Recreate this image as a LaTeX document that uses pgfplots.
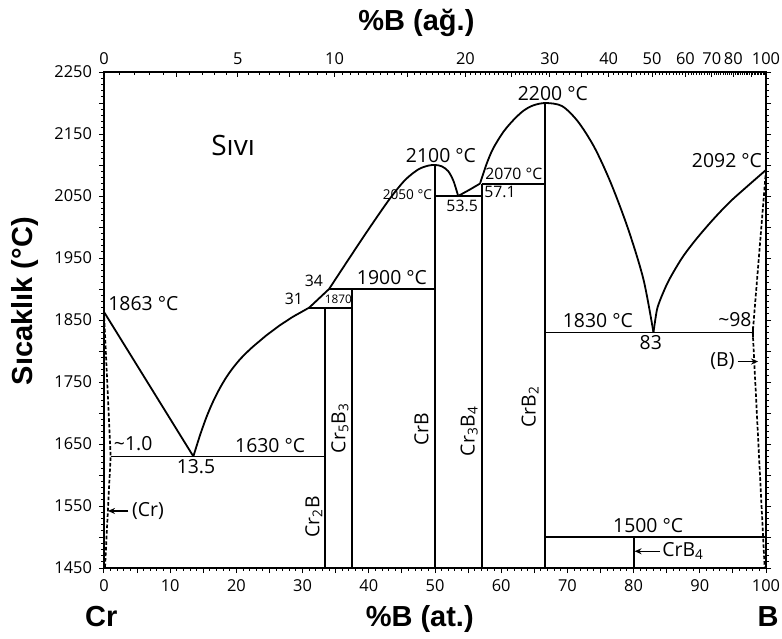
\documentclass[border=0pt]{standalone}
\usepackage{fontspec}
\setmainfont{Open Sans}
\newfontfamily\headfont{Liberation Sans}
\usepackage{pgfplots}
\pgfplotsset{compat=1.18}
\usetikzlibrary{arrows.meta}

% wt.% B -> at.% B  (B: 10.81, Cr: 52.00)
\def\wtminor{0}
\foreach \w in {0.5,1,...,29.5}{%
  \pgfmathparse{100*(\w/10.81)/((\w/10.81)+((100-\w)/52))}%
  \xdef\wtminor{\wtminor,\pgfmathresult}}
\foreach \w in {30,31,...,99}{%
  \pgfmathparse{100*(\w/10.81)/((\w/10.81)+((100-\w)/52))}%
  \xdef\wtminor{\wtminor,\pgfmathresult}}
\xdef\wtminor{\wtminor,100}

\newcommand\fa{\fontsize{9.7}{11}\selectfont}
\newcommand\fb{\fontsize{7.9}{9}\selectfont}
\newcommand\fc{\fontsize{6.8}{8}\selectfont}
\newcommand\fd{\fontsize{5.9}{7}\selectfont}
\newcommand\ftitle{\headfont\bfseries\fontsize{14.5}{16}\selectfont}

\begin{document}
\begin{tikzpicture}[
  ph/.style={black, line width=0.9pt, no markers},
  dsh/.style={black, line width=0.85pt, no markers, dash pattern=on 1.8pt off 1pt},
  lbl/.style={inner sep=0pt, font=\fa},
  arr/.style={black, line width=0.7pt, -{Stealth[length=3.5pt,width=3pt]}},
]
\begin{axis}[
  name=main,
  scale only axis, width=331pt, height=248pt,
  xmin=0, xmax=100, ymin=1450, ymax=2250,
  clip=false,
  axis line style={line width=0.6pt},
  xtick={0,5,...,100},
  xticklabels={0,,10,,20,,30,,40,,50,,60,,70,,80,,90,,100},
  minor x tick num=4,
  xtick pos=left,
  ytick={1450,1500,...,2250},
  yticklabels={1450,,1550,,1650,,1750,,1850,,1950,,2050,,2150,,2250},
  minor y tick num=4,
  ytick pos=both, yticklabel pos=left,
  tick align=outside,
  major tick length=2.5pt, minor tick length=1.3pt,
  tick style={line width=0.5pt, black},
  ticklabel style={font=\fontsize{8.2}{9}\selectfont},
  /pgf/number format/assume math mode=true,
  /pgf/number format/1000 sep={},
  scaled ticks=false,
]
% liquidus
\addplot[ph] coordinates {(0,1863) (13.5,1630)};
\addplot[ph, smooth, tension=0.5] coordinates {(13.5,1630) (14.5,1664) (15.5,1694) (16.5,1719) (17.5,1740) (18.5,1758) (19.5,1773) (20.5,1786) (21.5,1797) (22.5,1807) (23.5,1816) (24.5,1825) (25.5,1833) (26.5,1841) (27.5,1848) (28.5,1855) (29.5,1861) (30.5,1867) (31,1870)};
\addplot[ph] coordinates {(31,1870) (34,1900)};
\addplot[ph, smooth, tension=0.5] coordinates {(34,1900) (37.2,1952) (40.2,2000) (43.2,2046) (45.5,2076) (47.5,2093) (49,2099) (50,2100) (51,2098) (52,2090) (52.8,2074) (53.5,2050)};
\addplot[ph] coordinates {(53.5,2050) (55.2,2060) (56.8,2070)};
\addplot[ph, smooth, tension=0.5] coordinates {(56.8,2070) (57.8,2102) (58.8,2127) (60.3,2153) (61.8,2172) (63.3,2187) (64.8,2196) (66.7,2200) (69.2,2195) (71.6,2170) (74.1,2128) (76.6,2070) (79.2,1996) (81.5,1915) (83,1830)};
\addplot[ph, smooth, tension=0.5] coordinates {(83,1830) (83.5,1865) (84,1882) (85,1907) (86,1927) (87.5,1953) (89.5,1981) (92,2012) (94.5,2040) (97,2064) (100,2092)};
% solvus lines of the terminal solid solutions
\addplot[dsh] coordinates {(0,1863) (1.0,1630) (0.15,1450)};
\addplot[dsh] coordinates {(100,2092) (98,1830) (99.8,1450)};
% invariant reactions
\addplot[ph] coordinates {(1.0,1630) (33.33,1630)};
\addplot[ph] coordinates {(31,1870) (37.5,1870)};
\addplot[ph] coordinates {(34,1900) (50,1900)};
\addplot[ph] coordinates {(50,2050) (57.14,2050)};
\addplot[ph] coordinates {(57.14,2070) (66.67,2070)};
\addplot[ph] coordinates {(66.67,1830) (98,1830)};
\addplot[ph] coordinates {(98,1822) (98,1838)};
\addplot[ph] coordinates {(66.67,1500) (100,1500)};
% compounds
\addplot[ph] coordinates {(33.33,1450) (33.33,1870)};
\addplot[ph] coordinates {(37.5,1450) (37.5,1900)};
\addplot[ph] coordinates {(50,1450) (50,2100)};
\addplot[ph] coordinates {(57.14,1450) (57.14,2070)};
\addplot[ph] coordinates {(66.67,1450) (66.67,2200)};
\addplot[ph] coordinates {(80,1450) (80,1500)};

% labels
\node[lbl, font=\fontsize{14}{16}\selectfont] at (axis cs:19.5,2131) {Sıvı};
\node[lbl, anchor=west] at (axis cs:0.6,1877) {1863 °C};
\node[lbl] at (axis cs:4.4,1650) {\textasciitilde1.0};
\node[lbl] at (axis cs:13.9,1613) {13.5};
\node[lbl] at (axis cs:25.1,1648) {1630 °C};
\node[lbl, font=\fb] at (axis cs:28.7,1884) {31};
\node[lbl, font=\fb] at (axis cs:31.7,1913) {34};
\node[lbl, font=\fd] at (axis cs:35.4,1884) {1870};
\node[lbl] at (axis cs:43.5,1918) {1900 °C};
\node[lbl] at (axis cs:50.9,2116) {2100 °C};
\node[lbl, font=\fc, anchor=east] at (axis cs:49.6,2052) {2050 °C};
\node[lbl, font=\fb] at (axis cs:54.1,2034) {53.5};
\node[lbl, font=\fb, anchor=west] at (axis cs:57.4,2056) {57.1};
\node[lbl, font=\fb] at (axis cs:61.9,2085) {2070 °C};
\node[lbl] at (axis cs:67.8,2215) {2200 °C};
\node[lbl] at (axis cs:74.6,1849) {1830 °C};
\node[lbl] at (axis cs:82.6,1814) {83};
\node[lbl] at (axis cs:95.3,1850) {\textasciitilde98};
\node[lbl] at (axis cs:94.1,2107) {2092 °C};
\node[lbl] at (axis cs:82.2,1519) {1500 °C};
\node[lbl, anchor=west] at (axis cs:4.2,1542) {(Cr)};
\draw[arr] (axis cs:3.7,1542) -- (axis cs:0.6,1542);
\node[lbl, anchor=east] at (axis cs:95.3,1783) {(B)};
\draw[arr] (axis cs:95.7,1783) -- (axis cs:98.8,1783);
\node[lbl, anchor=west] at (axis cs:84.3,1477) {CrB\textsubscript{4}};
\draw[arr] (axis cs:84,1477) -- (axis cs:80.15,1477);
% compound names
\node[lbl, rotate=90] at (axis cs:31.7,1532) {Cr\textsubscript{2}B};
\node[lbl, rotate=90] at (axis cs:35.65,1676) {Cr\textsubscript{5}B\textsubscript{3}};
\node[lbl, rotate=90] at (axis cs:47.95,1674) {CrB};
\node[lbl, rotate=90] at (axis cs:55.15,1671) {Cr\textsubscript{3}B\textsubscript{4}};
\node[lbl, rotate=90] at (axis cs:64.35,1710) {CrB\textsubscript{2}};
% axis titles
\node[inner sep=0pt, anchor=base, font=\ftitle] at ([yshift=21pt]rel axis cs:0.472,1) {\%B (ağ.)};
\node[inner sep=0pt, anchor=base, font=\ftitle] at ([yshift=-29pt]rel axis cs:0.477,0) {\%B (at.)};
\node[inner sep=0pt, anchor=base, font=\ftitle] at ([yshift=-29pt]rel axis cs:-0.004,0) {Cr};
\node[inner sep=0pt, anchor=base, font=\ftitle] at ([yshift=-29pt]rel axis cs:1.003,0) {B};
\node[inner sep=0pt, rotate=90, font=\ftitle] at ([xshift=-39.5pt]rel axis cs:0,0.538) {Sıcaklık (°C)};
\end{axis}

% wt.% scale along the top edge
\begin{axis}[
  scale only axis, width=331pt, height=248pt,
  xmin=0, xmax=100, ymin=1450, ymax=2250,
  axis x line*=top, axis y line=none,
  axis line style={line width=0.6pt},
  xtick={0,10.98,20.20,28.06,34.83,45.91,54.60,61.59,67.34,72.15,76.23,79.74,82.79,87.83,91.82,95.06,97.74,100},
  xticklabels={0,,5,,10,,20,,30,,40,,50,60,70,80,,100},
  minor xtick/.expanded={\wtminor},
  tick align=inside,
  major tick length=2.5pt, minor tick length=1.3pt,
  tick style={line width=0.5pt, black},
  ticklabel style={font=\fontsize{8.2}{9}\selectfont},
]
\addplot[draw=none] coordinates {(0,1450) (100,2250)};
\end{axis}

\pgfresetboundingbox
\path[use as bounding box] ([shift={(-52pt,-35pt)}]main.south west) rectangle ([shift={(8pt,36pt)}]main.north east);
\end{tikzpicture}
\end{document}
